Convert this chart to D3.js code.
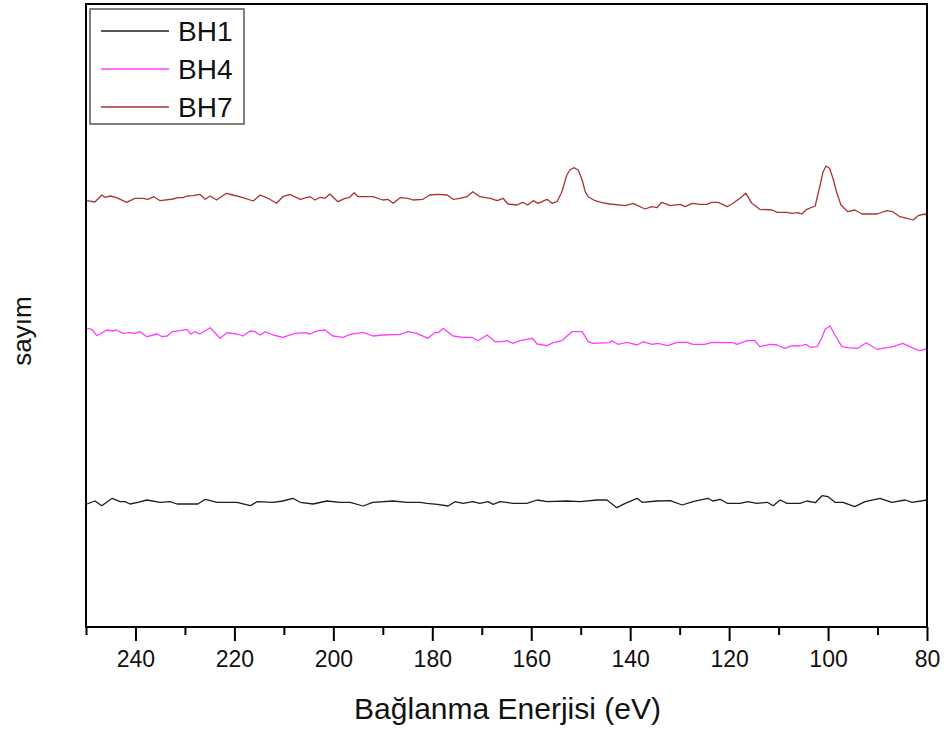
<!DOCTYPE html>
<html>
<head>
<meta charset="utf-8">
<script src="https://cdn.jsdelivr.net/npm/d3@7"></script>
<style>
  html, body { margin: 0; padding: 0; background: #fff; }
  svg { display: block; font-family: "Liberation Sans", Arial, sans-serif; }
</style>
</head>
<body>
<svg id="chart" width="944" height="731"></svg>
<script>
// Binding energy (eV) and counts for each sample
const bh1Energy = [249.8,248.2,246.8,244.7,243.1,242.1,241.1,239.5,237.7,235.0,233.0,231.6,227.4,225.9,223.5,221.5,219.5,216.8,215.4,212.2,210.2,208.2,206.7,204.1,201.3,198.7,196.6,194.0,192.0,187.9,185.1,182.5,181.1,179.0,176.8,175.4,173.8,171.8,170.4,168.7,167.7,166.3,163.7,160.9,158.8,156.8,152.8,150.1,146.7,144.7,142.7,141.0,138.6,137.6,134.6,131.9,129.5,127.3,124.3,123.3,121.8,120.4,117.8,116.2,114.4,112.3,111.1,109.7,108.3,105.7,104.3,102.6,101.2,100.0,98.6,97.0,94.6,92.5,89.5,87.1,84.4,83.0,80.0];
const bh1Counts = [1230,1260,1213,1287,1253,1253,1230,1247,1270,1247,1253,1230,1230,1277,1247,1247,1247,1213,1253,1247,1260,1287,1247,1230,1260,1247,1247,1210,1247,1260,1247,1247,1237,1227,1210,1253,1237,1253,1237,1253,1227,1253,1237,1237,1270,1253,1260,1253,1270,1270,1193,1237,1287,1247,1260,1263,1220,1253,1287,1260,1277,1237,1237,1253,1237,1247,1213,1270,1237,1237,1260,1243,1313,1303,1247,1247,1203,1253,1287,1247,1270,1247,1270];

const bh4Energy = [249.8,248.8,247.8,245.8,244.7,243.9,242.5,241.1,240.1,239.1,237.7,235.6,234.6,233.6,232.6,231.0,229.6,228.8,228.0,227.0,224.9,222.9,221.5,219.5,218.3,216.8,215.8,214.8,213.8,212.2,210.2,207.8,205.7,204.7,203.1,201.7,200.1,198.0,196.6,194.0,192.0,190.0,186.5,184.9,183.1,180.9,179.5,178.8,177.8,175.8,173.8,172.0,170.8,168.9,167.3,165.9,164.9,163.7,162.3,159.8,158.8,156.8,155.6,153.8,151.8,149.7,148.5,147.5,144.1,143.7,142.5,140.6,138.6,137.4,135.6,134.4,132.4,130.5,128.5,127.3,124.9,123.5,119.2,118.4,116.4,114.8,113.8,111.7,110.3,108.7,107.3,105.7,104.5,103.6,102.2,101.2,100.6,99.6,98.6,97.2,96.0,94.0,92.3,90.1,88.1,86.9,84.9,83.0,81.6,80.0];
const bh4Counts = [2987,2977,2913,2970,2960,2970,2937,2943,2937,2953,2903,2930,2903,2910,2953,2963,2977,2930,2953,2930,2993,2887,2943,2930,2910,2960,2953,2920,2953,2920,2897,2937,2943,2930,2963,2970,2910,2897,2927,2947,2910,2920,2927,2953,2937,2887,2943,2943,2987,2910,2897,2897,2863,2920,2853,2853,2863,2837,2863,2887,2830,2813,2843,2863,2953,2953,2853,2837,2843,2863,2827,2847,2820,2853,2827,2837,2813,2847,2847,2827,2827,2847,2843,2827,2863,2863,2803,2827,2820,2787,2813,2810,2827,2797,2803,2900,2977,3010,2920,2803,2793,2787,2843,2777,2793,2803,2837,2793,2763,2780];

const bh7Energy = [249.8,248.2,246.8,246.2,245.1,243.8,241.8,240.1,238.5,237.5,236.3,235.0,232.4,231.4,230.4,229.6,228.4,227.0,225.9,224.9,223.6,221.6,220.3,218.3,216.2,214.8,213.2,211.5,210.2,208.8,206.7,204.7,203.7,202.7,201.7,200.7,199.1,197.6,196.8,195.8,195.0,192.0,190.0,189.0,187.9,186.5,184.9,183.9,181.9,180.5,179.0,177.0,175.8,174.4,173.0,171.8,170.4,168.3,166.9,165.7,164.7,162.9,161.7,160.7,159.6,158.6,156.8,155.8,154.8,153.8,152.8,152.2,151.4,150.5,149.7,149.1,148.5,147.1,145.7,144.1,141.0,139.4,137.0,135.6,134.6,133.6,131.9,129.9,128.9,127.5,125.9,124.5,123.5,122.2,120.4,119.2,117.8,116.6,115.4,113.8,111.3,110.3,108.3,107.3,106.1,105.3,104.3,102.6,101.6,101.0,100.4,99.7,98.9,98.3,97.4,96.0,94.6,93.1,90.1,88.1,86.9,85.5,84.0,82.8,81.8,80.4,80.0];
const bh7Counts = [4263,4250,4320,4297,4310,4293,4247,4287,4287,4277,4303,4263,4280,4293,4293,4310,4313,4327,4277,4310,4270,4337,4320,4293,4260,4320,4287,4237,4303,4327,4277,4303,4270,4297,4287,4330,4253,4287,4293,4343,4303,4303,4270,4277,4237,4293,4287,4270,4277,4320,4327,4320,4277,4287,4303,4353,4303,4287,4263,4287,4230,4220,4247,4220,4263,4237,4277,4237,4253,4353,4520,4570,4593,4570,4470,4353,4303,4263,4243,4230,4213,4237,4180,4203,4193,4247,4213,4227,4203,4237,4227,4227,4247,4247,4203,4237,4287,4337,4237,4177,4170,4147,4147,4137,4143,4130,4177,4210,4420,4553,4610,4587,4470,4353,4220,4153,4170,4130,4130,4163,4153,4103,4087,4070,4113,4130,4110];

const seriesNames = ["BH1", "BH4", "BH7"];
const seriesColors = ["#1e1e1e", "#ff3cff", "#a83434"];
const majorTicks = [240, 220, 200, 180, 160, 140, 120, 100, 80];
const minorTicks = [250, 230, 210, 190, 170, 150, 130, 110, 90];
const xTitle = "Bağlanma Enerjisi (eV)";
const yTitle = "sayım";

const series = [
  { name: seriesNames[0], color: seriesColors[0], pts: bh1Energy.map((e, i) => [e, bh1Counts[i]]) },
  { name: seriesNames[1], color: seriesColors[1], pts: bh4Energy.map((e, i) => [e, bh4Counts[i]]) },
  { name: seriesNames[2], color: seriesColors[2], pts: bh7Energy.map((e, i) => [e, bh7Counts[i]]) }
];

const svg = d3.select("#chart");
const plot = { left: 86, right: 927, top: 4, bottom: 627 };

const x = d3.scaleLinear().domain([250, 80]).range([plot.left, plot.right]);
const y = d3.scaleLinear().domain([0, 6230]).range([plot.bottom, plot.top]);

// Spectra
const line = d3.line().x(d => x(d[0])).y(d => y(d[1]));
svg.append("g").selectAll("path").data(series).join("path")
  .attr("fill", "none")
  .attr("stroke", d => d.color)
  .attr("stroke-width", 1.3)
  .attr("stroke-linejoin", "round")
  .attr("d", d => line(d.pts));

// Bottom axis: major ticks with labels, minor ticks without
const axisG = svg.append("g").attr("transform", `translate(0,${plot.bottom})`);
axisG.call(d3.axisBottom(x).tickValues(majorTicks).tickSize(14).tickPadding(10).tickSizeOuter(0).tickFormat(d3.format("d")))
  .call(g => g.select(".domain").remove())
  .call(g => g.selectAll(".tick line").attr("stroke", "#000").attr("stroke-width", 2))
  .call(g => g.selectAll(".tick text").attr("fill", "#111").style("font-size", "23px").style("font-family", "'Liberation Sans', Arial, sans-serif"));
const minorG = svg.append("g").attr("transform", `translate(0,${plot.bottom})`);
minorG.call(d3.axisBottom(x).tickValues(minorTicks).tickSize(8).tickSizeOuter(0).tickFormat(""))
  .call(g => g.select(".domain").remove())
  .call(g => g.selectAll(".tick line").attr("stroke", "#000").attr("stroke-width", 2));

// Frame
svg.append("rect")
  .attr("x", plot.left).attr("y", plot.top)
  .attr("width", plot.right - plot.left).attr("height", plot.bottom - plot.top)
  .attr("fill", "none").attr("stroke", "#000").attr("stroke-width", 2);

// Axis titles
svg.append("text")
  .attr("x", (plot.left + plot.right) / 2 + 1).attr("y", 719)
  .attr("text-anchor", "middle")
  .attr("fill", "#111")
  .style("font-size", "30px")
  .text(xTitle);

svg.append("text")
  .attr("transform", "translate(31,331) rotate(-90)")
  .attr("text-anchor", "middle")
  .attr("fill", "#111")
  .style("font-size", "26px")
  .text(yTitle);

// Legend
const legend = svg.append("g");
legend.append("rect")
  .attr("x", 90).attr("y", 9).attr("width", 154).attr("height", 115)
  .attr("fill", "#fff").attr("stroke", "#555").attr("stroke-width", 1.5);
const items = legend.selectAll("g.item").data(series).join("g")
  .attr("class", "item")
  .attr("transform", (d, i) => `translate(0,${31 + i * 38})`);
items.append("line")
  .attr("x1", 101).attr("x2", 169).attr("y1", 0).attr("y2", 0)
  .attr("stroke", d => d.color).attr("stroke-width", 1.3);
items.append("text")
  .attr("x", 178).attr("y", 10)
  .attr("fill", "#111")
  .style("font-size", "28px")
  .text(d => d.name);
</script>
</body>
</html>
